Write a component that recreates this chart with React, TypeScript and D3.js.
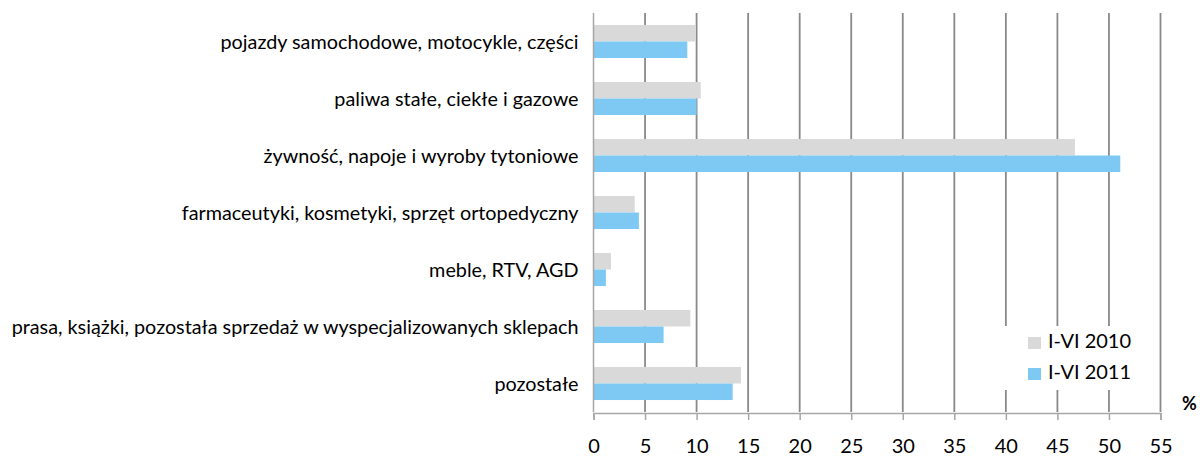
import React, { useEffect, useRef } from "react";
import * as d3 from "d3";

const categories = [
  "pojazdy samochodowe, motocykle, części",
  "paliwa stałe, ciekłe i gazowe",
  "żywność, napoje i wyroby tytoniowe",
  "farmaceutyki, kosmetyki, sprzęt ortopedyczny",
  "meble, RTV, AGD",
  "prasa, książki, pozostała sprzedaż w wyspecjalizowanych sklepach",
  "pozostałe",
];
const values2010 = [9.9, 10.4, 46.7, 4.0, 1.7, 9.4, 14.3];
const values2011 = [9.1, 10.0, 51.1, 4.4, 1.2, 6.8, 13.5];
const seriesNames = ["I-VI 2010", "I-VI 2011"];
const seriesColors = ["#d9d9d9", "#7dc9f3"];
const xTicks = [0, 5, 10, 15, 20, 25, 30, 35, 40, 45, 50, 55];
const unitLabel = "%";

const W = 1200;
const H = 461;
const FONT = "Lato, 'Open Sans', sans-serif";

export default function App() {
  const ref = useRef<SVGSVGElement | null>(null);

  useEffect(() => {
    const svg = d3.select(ref.current);
    svg.selectAll("*").remove();

    const left = 593.5;
    const right = 1160.5;
    const top = 13;
    const bottom = 412;

    const x = d3.scaleLinear().domain([0, 55]).range([left, right]);
    const y = d3
      .scaleBand<string>()
      .domain(categories)
      .range([top, bottom])
      .paddingInner(0.42)
      .paddingOuter(0.21);
    const sub = d3
      .scaleBand<string>()
      .domain(seriesNames)
      .range([0, y.bandwidth()]);

    // gridlines
    svg
      .append("g")
      .selectAll("line")
      .data(xTicks.slice(1))
      .join("line")
      .attr("x1", (d) => x(d))
      .attr("x2", (d) => x(d))
      .attr("y1", top)
      .attr("y2", bottom)
      .attr("stroke", "#898989")
      .attr("stroke-width", 1.8);

    // bars
    const rows = categories.map((c, i) => ({ c, vals: [values2010[i], values2011[i]] }));
    const groups = svg
      .append("g")
      .selectAll("g")
      .data(rows)
      .join("g")
      .attr("transform", (d) => `translate(0,${y(d.c)})`);
    groups
      .selectAll("rect")
      .data((d) => d.vals.map((v, j) => ({ v, j })))
      .join("rect")
      .attr("x", x(0))
      .attr("y", (d) => sub(seriesNames[d.j]) as number)
      .attr("height", sub.bandwidth())
      .attr("width", (d) => x(d.v) - x(0))
      .attr("fill", (d) => seriesColors[d.j]);

    // left axis line
    svg
      .append("line")
      .attr("x1", x(0))
      .attr("x2", x(0))
      .attr("y1", top)
      .attr("y2", bottom)
      .attr("stroke", "#a6a6a6")
      .attr("stroke-width", 1.5);

    // bottom axis
    const xAxis = svg
      .append("g")
      .attr("transform", `translate(0,${bottom + 1})`)
      .call(d3.axisBottom(x).tickValues(xTicks).tickSize(7).tickPadding(19).tickFormat(d3.format("d")));
    xAxis.select(".domain").attr("stroke", "#a6a6a6").attr("stroke-width", 1.5);
    xAxis.selectAll(".tick line").attr("stroke", "#a6a6a6").attr("stroke-width", 1.5);
    xAxis
      .selectAll(".tick text")
      .attr("fill", "#000")
      .style("font-family", FONT)
      .style("font-size", "20px");

    // category labels
    svg
      .append("g")
      .selectAll("text")
      .data(categories)
      .join("text")
      .attr("x", left - 15)
      .attr("y", (d) => (y(d) as number) + y.bandwidth() / 2 + 2)
      .attr("text-anchor", "end")
      .attr("dominant-baseline", "middle")
      .style("font-family", FONT)
      .style("font-size", "19.8px")
      .attr("fill", "#000")
      .text((d) => d);

    // legend
    const lg = svg.append("g");
    lg.append("rect")
      .attr("x", 1003)
      .attr("y", 326)
      .attr("width", 148)
      .attr("height", 64)
      .attr("fill", "#fff");
    seriesNames.forEach((name, i) => {
      const cy = 343 + i * 31;
      lg.append("rect")
        .attr("x", 1028)
        .attr("y", cy - 6)
        .attr("width", 13)
        .attr("height", 12)
        .attr("fill", seriesColors[i]);
      lg.append("text")
        .attr("x", 1048)
        .attr("y", cy)
        .attr("dominant-baseline", "middle")
        .style("font-family", FONT)
        .style("font-size", "20px")
        .attr("fill", "#000")
        .text(name);
    });

    svg
      .append("text")
      .attr("x", 1182)
      .attr("y", 410)
      .style("font-family", FONT)
      .style("font-size", "18px")
      .style("font-weight", "bold")
      .attr("fill", "#000")
      .text(unitLabel);
  }, []);

  return (
    <svg
      ref={ref}
      width={W}
      height={H}
      style={{ position: "absolute", left: 0, top: 0, background: "#fff" }}
    />
  );
}
